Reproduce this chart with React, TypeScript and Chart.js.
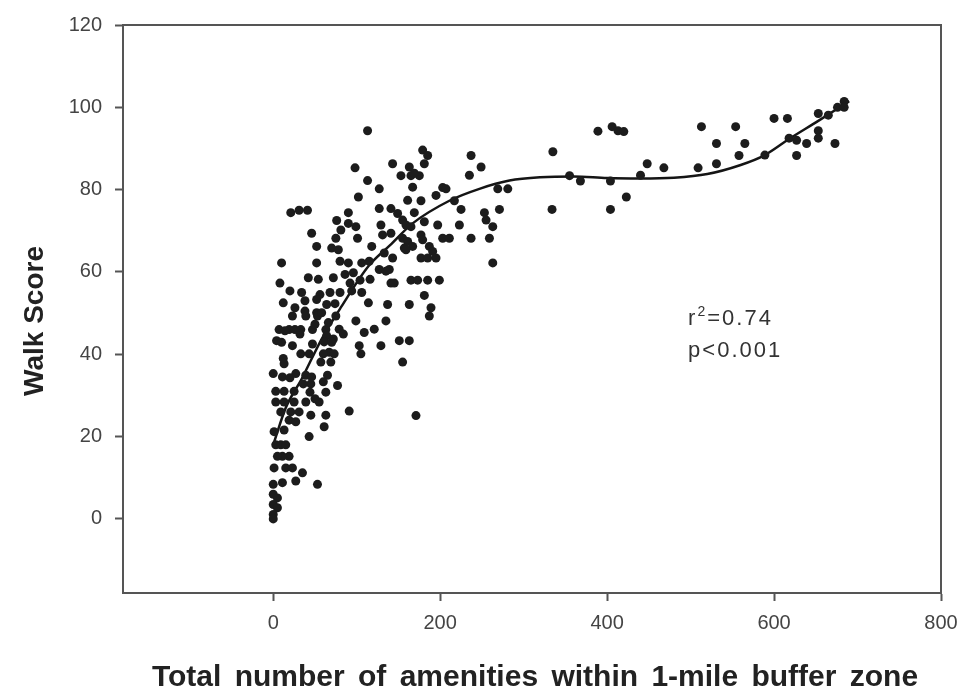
import { useEffect, useRef } from "react";
import { Chart, registerables } from "chart.js";

Chart.register(...registerables);

// Scatter points: total amenities (x) and Walk Score (y)
const amenities = [
  113, 98, 113, 102, 21, 31, 41, 90, 76, 90, 99, 46, 81, 101, 75,
  52, 70, 78, 118,
  10, 52, 80, 90, 106, 115,
  42, 54, 72, 86, 96, 116, 8, 104,
  20, 34, 56, 68, 80, 92, 94, 106,
  12, 26, 38, 52, 64, 114,
  23, 39, 53, 75, 99,
  7, 19, 33, 47, 63, 79, 109, 121,
  64, 72, 84, 32,
  23, 47, 61, 103,
  105, 33, 43, 67, 73,
  13, 57, 69, 12,
  0, 11, 27, 39, 65, 20,
  45, 77, 63,
  3, 13, 25,
  3, 13, 25, 39, 55,
  9, 21, 31, 45, 63, 91,
  61, 19, 27, 1, 13, 43,
  3, 9, 15,
  19, 11, 5,
  1, 15, 23,
  35, 27, 0, 11, 53,
  0, 5, 0, 5, 0, 0,
  38, 52, 74, 58, 26, 50, 4, 10, 60, 46, 60, 44, 50,
  66, 14, 70, 36,
  179, 185, 143, 163, 181, 237, 249, 153, 165, 175, 169, 235,
  127, 167, 203, 207, 269, 281, 161, 177, 195, 217,
  127, 141, 149, 169, 225, 253, 271,
  155, 159, 165, 181, 197, 223, 255, 263, 129,
  131, 141, 155, 161, 157, 177, 179, 203, 211, 237, 259,
  167, 187, 191, 133, 139, 159, 143, 177, 185, 195, 263,
  127, 135, 141, 145, 165, 173, 185, 199,
  181, 137, 163, 189, 187, 135, 129, 151, 163, 155, 171,
  335, 334, 355, 368, 389, 406, 413, 420, 404, 404, 423, 440,
  448, 468, 509, 513, 531, 531, 554, 565, 558, 589, 600, 616,
  618, 627, 627, 639, 653, 665, 653, 653, 673, 676, 684, 684,
];

const walkScore = [
  94.3, 85.3, 82.2, 78.2, 74.4, 75, 75, 74.4, 72.5, 71.8, 71, 69.4, 70.2, 68.2, 68.2,
  66.2, 65.8, 65.4, 66.2,
  62.2, 62.2, 62.6, 62.2, 62.2, 62.6,
  58.6, 58.2, 58.6, 59.4, 59.8, 58.2, 57.3, 58,
  55.4, 55, 54.5, 55, 55, 57.3, 55.4, 55,
  52.5, 51.3, 50.5, 50.1, 52.1, 52.5,
  49.3, 49.3, 49.3, 49.3, 48.1,
  46, 46, 46, 46, 46, 46.1, 45.3, 46.1,
  44.5, 43.7, 44.9, 44.9,
  42.1, 42.5, 43, 42.1,
  40.1, 40.1, 40.1, 40.5, 40.1,
  37.7, 38.1, 38.1, 39,
  35.3, 34.5, 35.3, 34.9, 34.9, 34.3,
  32.8, 32.4, 30.8,
  31, 31, 31,
  28.4, 28.4, 28.4, 28.4, 28.4,
  26, 26, 26, 25.2, 25.2, 26.2,
  22.4, 24, 23.6, 21.2, 21.6, 20,
  18, 18, 18,
  15.2, 15.2, 15.2,
  12.4, 12.4, 12.4,
  11.2, 9.2, 8.4, 8.8, 8.4,
  6, 5.1, 3.5, 2.7, 1.1, 0,
  53, 53.3, 52.3, 50.1, 46, 47.3, 43.3, 42.9, 40.1, 34.5, 33.3, 30.8, 29.2,
  47.7, 45.7, 42.9, 32.8,
  89.6, 88.3, 86.3, 85.5, 86.3, 88.3, 85.5, 83.4, 83.4, 83.4, 84, 83.5,
  80.2, 80.6, 80.5, 80.2, 80.2, 80.2, 77.4, 77.3, 78.6, 77.3,
  75.4, 75.4, 74.2, 74.4, 75.2, 74.4, 75.2,
  72.6, 71.4, 71, 72.2, 71.4, 71.4, 72.6, 71, 71.4,
  69, 69.4, 68.2, 67.4, 65.8, 69, 67.8, 68.2, 68.2, 68.2, 68.2,
  66.2, 66.2, 65, 64.6, 60.6, 65.4, 63.4, 63.4, 63.4, 63.4, 62.2,
  60.6, 60.2, 57.3, 57.3, 58, 58, 58, 58,
  54.3, 52.1, 52.1, 51.3, 49.3, 48.1, 42.1, 43.3, 43.3, 38.1, 25.1,
  89.2, 75.2, 83.4, 82.1, 94.2, 95.3, 94.3, 94.1, 82.1, 75.2, 78.2, 83.5,
  86.3, 85.3, 85.3, 95.3, 91.2, 86.3, 95.3, 91.2, 88.3, 88.4, 97.3, 97.3,
  92.5, 92, 88.3, 91.2, 98.5, 98.1, 94.3, 92.5, 91.2, 100, 101.4, 100,
];

// Fitted curve
const fitAmenities = [0, 15, 34, 58, 82, 114, 140, 167, 211, 247, 283, 320, 360, 400, 440, 480, 520, 560, 589, 618, 653, 690];
const fitWalkScore = [18, 27, 34, 43.7, 51.7, 61.4, 66.5, 71.8, 77.3, 80.2, 82.2, 83, 83.2, 82.8, 82.7, 82.9, 83.8, 86, 88.4, 92.3, 96.7, 101.5];

const xTicks = [0, 200, 400, 600, 800];
const yTicks = [0, 20, 40, 60, 80, 100, 120];

const xTitle = "Total number of amenities within 1-mile buffer zone";
const yTitle = "Walk Score";
const statR = "r";
const statSup = "2";
const statRVal = "=0.74";
const statP = "p<0.001";

const FONT = '"Liberation Sans", Arial, Helvetica, sans-serif';
const AXIS = "#555555";

const decor = {
  id: "decor",
  beforeDraw(chart: any) {
    const { ctx, width, height } = chart;
    ctx.save();
    ctx.fillStyle = "#ffffff";
    ctx.fillRect(0, 0, width, height);
    ctx.restore();
  },
  afterDraw(chart: any) {
    const { ctx, chartArea, scales, height } = chart;
    const { left, top, right, bottom } = chartArea;
    ctx.save();
    ctx.strokeStyle = AXIS;
    ctx.lineWidth = 2;
    ctx.strokeRect(left, top, right - left, bottom - top);

    // x title
    ctx.fillStyle = "#222222";
    ctx.font = `bold 30px ${FONT}`;
    ctx.textAlign = "center";
    ctx.textBaseline = "alphabetic";
    try { (ctx as any).wordSpacing = "5px"; } catch (e) {}
    ctx.fillText(xTitle, (left + right) / 2 + 3, height - 8);
    try { (ctx as any).wordSpacing = "0px"; } catch (e) {}

    // y title
    ctx.save();
    ctx.translate(left - 80, (top + bottom) / 2 + 12);
    ctx.rotate(-Math.PI / 2);
    ctx.font = `bold 28px ${FONT}`;
    ctx.textAlign = "center";
    ctx.fillText(yTitle, 0, 0);
    ctx.restore();

    // statistics
    const sx = scales.x.getPixelForValue(497);
    const y1 = scales.y.getPixelForValue(47.2);
    const y2 = scales.y.getPixelForValue(39.3);
    ctx.fillStyle = "#333333";
    ctx.textAlign = "left";
    try { (ctx as any).letterSpacing = "2px"; } catch (e) {}
    ctx.font = `22px ${FONT}`;
    ctx.fillText(statR, sx, y1);
    let w = ctx.measureText(statR).width;
    ctx.font = `14px ${FONT}`;
    ctx.fillText(statSup, sx + w, y1 - 9);
    w += ctx.measureText(statSup).width;
    ctx.font = `22px ${FONT}`;
    ctx.fillText(statRVal, sx + w, y1);
    ctx.fillText(statP, sx, y2);
    try { (ctx as any).letterSpacing = "0px"; } catch (e) {}
    ctx.restore();
  },
};

export default function App() {
  const ref = useRef<HTMLCanvasElement | null>(null);

  useEffect(() => {
    if (!ref.current) return;
    const points = amenities.map((x, i) => ({ x, y: walkScore[i] }));
    const curve = fitAmenities.map((x, i) => ({ x, y: fitWalkScore[i] }));

    const chart = new Chart(ref.current, {
      type: "scatter",
      data: {
        datasets: [
          {
            label: "Sites",
            data: points,
            pointRadius: 4.5,
            pointHoverRadius: 4.5,
            pointBackgroundColor: "#1c1c1c",
            pointBorderWidth: 0,
            showLine: false,
          } as any,
          {
            type: "line",
            label: "Fit",
            data: curve,
            showLine: true,
            pointRadius: 0,
            borderColor: "#151515",
            borderWidth: 2.5,
            cubicInterpolationMode: "monotone",
            fill: false,
          } as any,
        ],
      },
      options: {
        responsive: false,
        animation: false,
        layout: { padding: { left: 0, top: 20, right: 27, bottom: 0 } },
        plugins: {
          legend: { display: false },
          tooltip: { enabled: false },
        },
        scales: {
          x: {
            type: "linear",
            min: -180,
            max: 800,
            afterBuildTicks: (s: any) => {
              s.ticks = xTicks.map((v) => ({ value: v }));
            },
            afterFit: (s: any) => {
              s.height = 101;
            },
            grid: {
              display: true,
              drawOnChartArea: false,
              drawTicks: true,
              tickLength: 8,
              tickWidth: 2,
              color: AXIS,
            },
            border: { display: true, color: AXIS, width: 2 },
            ticks: {
              padding: 10,
              color: "#444444",
              font: { family: FONT, size: 20 },
              maxRotation: 0,
            },
          },
          y: {
            type: "linear",
            min: -18,
            max: 120,
            afterBuildTicks: (s: any) => {
              s.ticks = yTicks.map((v) => ({ value: v }));
            },
            afterFit: (s: any) => {
              s.width = 123;
            },
            grid: {
              display: true,
              drawOnChartArea: false,
              drawTicks: true,
              tickLength: 8,
              tickWidth: 2,
              color: AXIS,
            },
            border: { display: true, color: AXIS, width: 2 },
            ticks: {
              padding: 13,
              color: "#444444",
              font: { family: FONT, size: 20 },
            },
          },
        },
      },
      plugins: [decor],
    });
    return () => chart.destroy();
  }, []);

  return (
    <div style={{ position: "absolute", left: 0, top: 0, width: 968, height: 694, background: "#fff" }}>
      <canvas ref={ref} width={968} height={694} style={{ display: "block" }} />
    </div>
  );
}
